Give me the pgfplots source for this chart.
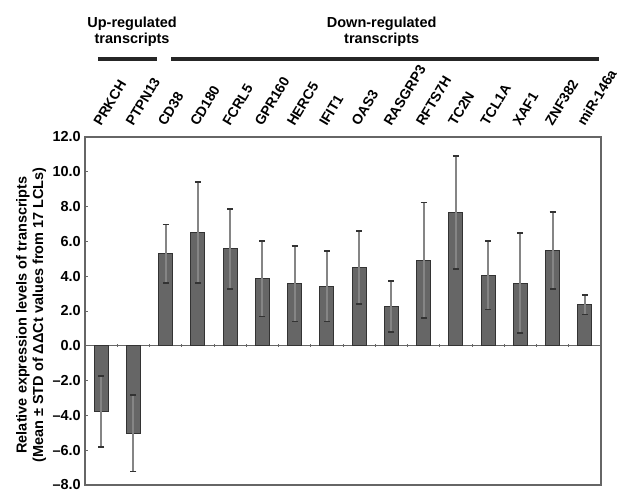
\documentclass[border=0pt]{standalone}
\usepackage{pgfplots}
\pgfplotsset{compat=1.18}
\usepackage{fontspec}
\setmainfont{Liberation Sans}
\definecolor{barfill}{HTML}{666666}
\definecolor{baredge}{HTML}{333333}
\definecolor{errc}{HTML}{858585}
\definecolor{axc}{HTML}{666666}
\newcommand{\lblfont}{\bfseries\fontsize{14.5}{16.5}\selectfont}
\begin{document}
\begin{tikzpicture}[font=\lblfont]
\begin{axis}[
  name=ax,
  width=516pt, height=348pt, scale only axis,
  xmin=-0.5, xmax=15.5, ymin=-8, ymax=12,
  clip=false,
  axis line style={axc, line width=1.2pt},
  ytick={-8,-6,...,12},
  yticklabels={\textendash8.0,\textendash6.0,\textendash4.0,\textendash2.0,0.0,2.0,4.0,6.0,8.0,10.0,12.0},
  ytick pos=left, tick align=inside,
  major tick length=3pt,
  y tick style={axc, line width=0.9pt},
  yticklabel style={font=\lblfont, inner sep=1pt, xshift=-3pt},
  xtick={0,...,15},
  xticklabels={PRKCH,PTPN13,CD38,CD180,FCRL5,GPR160,HERC5,IFIT1,OAS3,RASGRP3,RFTS7H,TC2N,TCL1A,XAF1,ZNF382,miR-146a},
  xticklabel pos=right,
  x tick style={draw=none},
  xticklabel style={font=\bfseries\fontsize{14}{16}\selectfont, anchor=base west, inner sep=0pt, yshift=7pt, xshift=0pt, rotate=59},
  ylabel={\begin{tabular}{c}Relative expression levels of transcripts\\(Mean ± STD of ΔΔCt values from 17 LCLs)\end{tabular}},
  ylabel style={font=\lblfont, xshift=-4pt},
  ybar, bar width=14pt,
  every error bar/.append style={errc, line width=2pt},
]
\draw[axc, line width=1.1pt] (axis cs:-0.5,0) -- (axis cs:15.5,0);
\addplot[only marks, mark=|, mark size=1.6pt, mark options={axc, line width=0.9pt}, forget plot] coordinates {
(0.5,0) (1.5,0) (2.5,0) (3.5,0) (4.5,0) (5.5,0) (6.5,0) (7.5,0) (8.5,0) (9.5,0) (10.5,0) (11.5,0) (12.5,0) (13.5,0) (14.5,0)};
\addplot[fill=barfill, draw=baredge, line width=1.1pt,
  error bars/.cd, y dir=both, y explicit,
  error bar style={errc, line width=2pt},
  error mark options={rotate=90, mark size=3pt, baredge, line width=1.8pt}]
  table[x=x, y=y, y error=e] {
x y e
0 -3.78 2.03
1 -5.02 2.20
2 5.29 1.68
3 6.51 2.90
4 5.57 2.29
5 3.85 2.17
6 3.56 2.16
7 3.43 2.03
8 4.50 2.11
9 2.24 1.47
10 4.92 3.32
11 7.68 3.25
12 4.06 1.97
13 3.60 2.87
14 5.48 2.20
15 2.36 0.56
};
\draw[line width=4pt, black!85] (axis cs:-0.1,16.5) -- (axis cs:1.73,16.5);
\draw[line width=4pt, black!85] (axis cs:2.17,16.5) -- (axis cs:15.44,16.5);
\node[align=center, font=\lblfont, anchor=center] at (axis cs:0.96,18.05) {Up-regulated\\transcripts};
\node[align=center, font=\lblfont, anchor=center] at (axis cs:8.7,18.05) {Down-regulated\\transcripts};
\end{axis}
\pgfresetboundingbox
\path[use as bounding box] ([shift={(-85pt,-9pt)}]ax.south west) rectangle ([shift={(537pt,485pt)}]ax.south west);
\end{tikzpicture}
\end{document}
